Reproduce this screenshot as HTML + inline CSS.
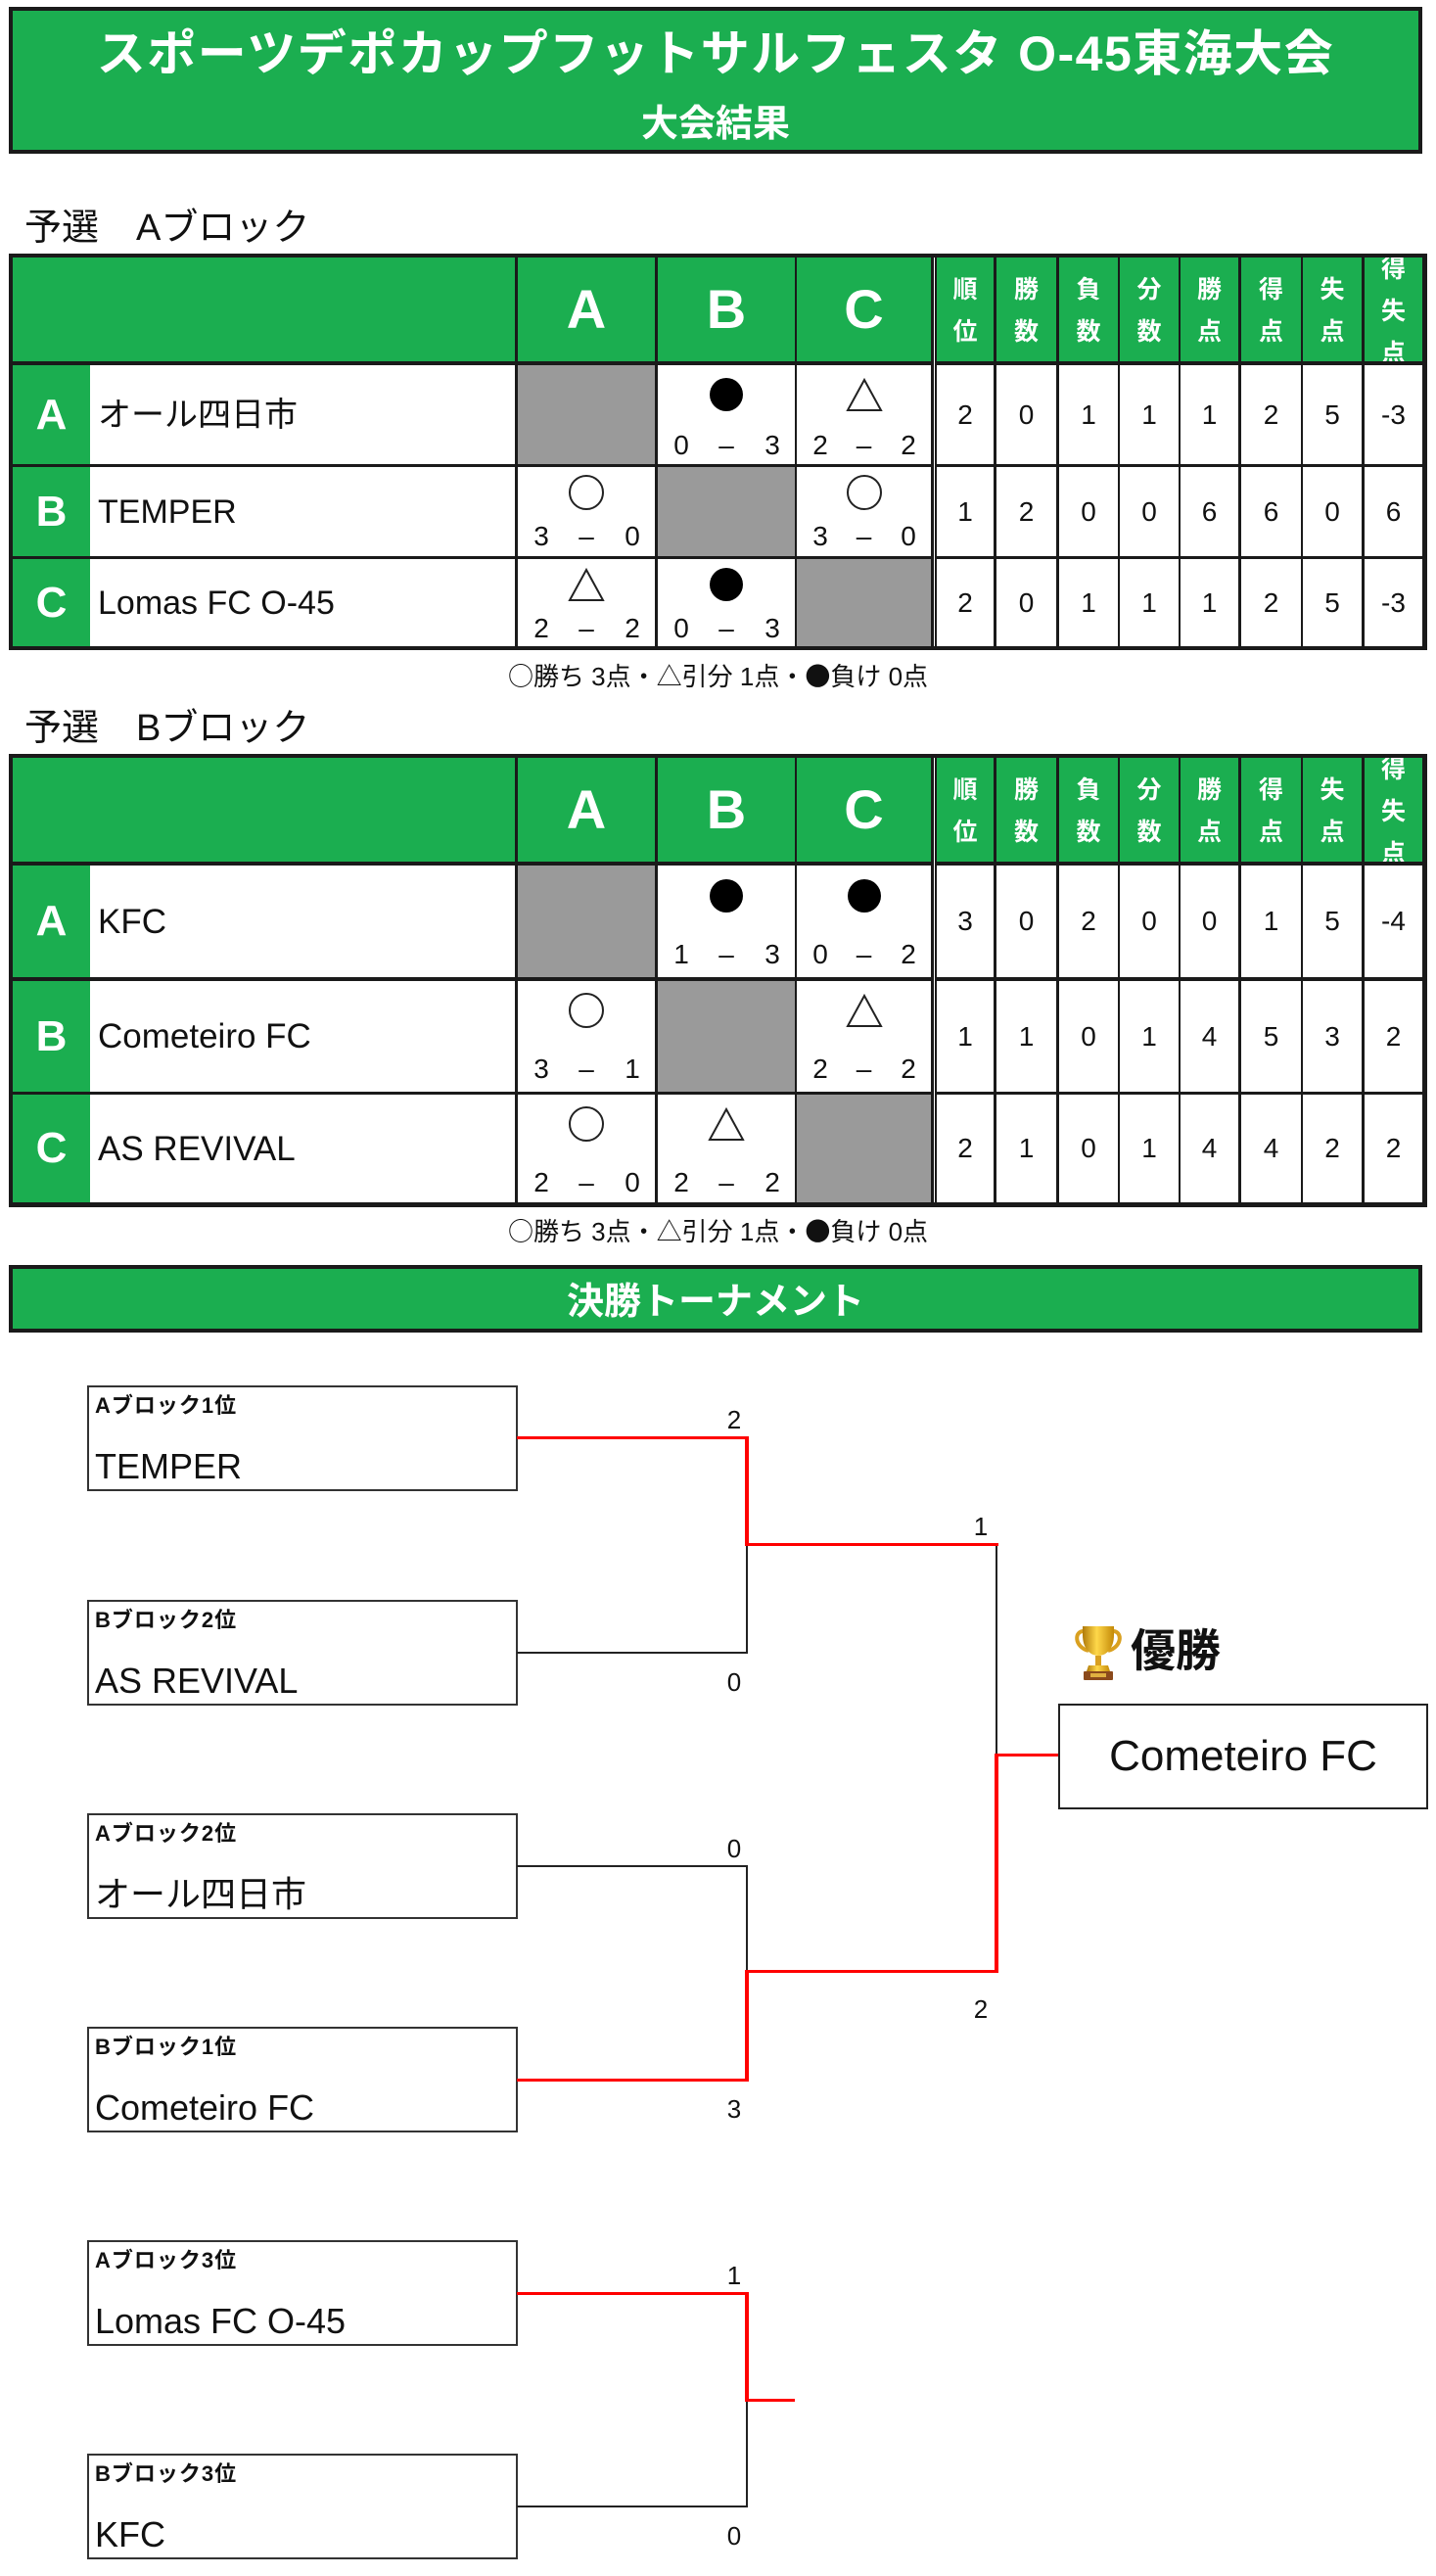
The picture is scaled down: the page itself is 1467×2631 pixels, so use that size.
<!DOCTYPE html>
<html lang="ja">
<head>
<meta charset="utf-8">
<style>
*{margin:0;padding:0;box-sizing:border-box}
body{width:1467px;height:2631px;position:relative;background:#fff;overflow:hidden;font-family:"Liberation Sans","Noto Sans CJK JP",sans-serif;color:#111;line-height:1}
.a{position:absolute}
.c{position:absolute;display:flex;align-items:center;justify-content:center;white-space:nowrap}
.t{position:absolute;white-space:nowrap;text-align:center}
.g{background:#1bae50}
.gr{background:#9a9a9a}
.w{background:#fff}
.k{background:#1a1a1a}
.r{background:#ff0000}
.kl{background:#222}
.cj{font-family:"Noto Sans CJK JP","Liberation Sans",sans-serif}
/* columns */
.cL{left:13px;width:79px}
.cN{left:92px;width:434px}
.cH{left:13px;width:513px}
.cA{left:529px;width:140px}
.cB{left:672px;width:140px}
.cC{left:814px;width:137px}
.s1{left:957px;width:58px}
.s2{left:1018px;width:61px}
.s3{left:1082px;width:60px}
.s4{left:1144px;width:60px}
.s5{left:1206px;width:59px}
.s6{left:1268px;width:61px}
.s7{left:1331px;width:60px}
.s8{left:1394px;width:59px}
/* rows table A */
.ah{top:263px;height:106px}
.a1{top:373px;height:101px}
.a2{top:477px;height:91px}
.a3{top:571px;height:89px}
/* rows table B */
.bh{top:774px;height:106px}
.b1{top:884px;height:114px}
.b2{top:1002px;height:113px}
.b3{top:1118px;height:110px}
.hl{color:#fff;font-weight:bold;font-size:56px}
.rl{color:#fff;font-weight:bold;font-size:44px}
.nm{justify-content:flex-start;padding-left:8px;font-size:34px;background:#fff}
.sh{color:#fff;font-weight:bold;font-size:25px;line-height:43px;text-align:center;overflow:hidden;white-space:normal;padding-top:4px}
.n{font-size:28px;background:#fff}
.sy{position:absolute;left:calc(50% - 19px)}
.sc{position:absolute;left:0;right:0;height:30px;font-size:28px;line-height:30px}
.sc span{position:absolute;top:0;width:20px;text-align:center}
.sc .l{left:14px}
.sc .m{left:calc(50% - 10px)}
.sc .rr{right:13px}
.bx{position:absolute;left:89px;width:440px;height:108px;border:2px solid #333;background:#fff}
.bl{position:absolute;left:6px;top:7px;font-size:22px;font-weight:bold;letter-spacing:1px;line-height:24px;white-space:nowrap}
.bn{position:absolute;left:6px;top:62px;font-size:36px;line-height:38px;white-space:nowrap}
.sl{position:absolute;width:30px;text-align:center;font-size:26px;line-height:30px}
.lg{font-size:26px}
</style>
</head>
<body>

<!-- Header -->
<div class="a g" style="left:9px;top:7px;width:1444px;height:150px;border:4px solid #1a1a1a"></div>
<div class="t" style="left:9px;width:1444px;top:25px;height:60px;line-height:60px;font-size:50px;font-weight:bold;color:#fff;letter-spacing:1.5px">スポーツデポカップフットサルフェスタ O-45東海大会</div>
<div class="t" style="left:9px;width:1444px;top:105px;height:44px;line-height:44px;font-size:38px;font-weight:bold;color:#fff">大会結果</div>

<!-- Section A title -->
<div class="t" style="left:25px;top:211px;height:44px;line-height:44px;font-size:38px;text-align:left">予選　Aブロック</div>

<!-- Table A -->
<div class="a k" style="left:9px;top:259px;width:1449px;height:405px"></div>
<div class="a w" style="left:954px;top:263px;width:1px;height:397px"></div>
<div class="c g cH ah"></div>
<div class="c g cA ah hl">A</div>
<div class="c g cB ah hl">B</div>
<div class="c g cC ah hl">C</div>
<div class="c g s1 ah sh">順<br>位</div>
<div class="c g s2 ah sh">勝<br>数</div>
<div class="c g s3 ah sh">負<br>数</div>
<div class="c g s4 ah sh">分<br>数</div>
<div class="c g s5 ah sh">勝<br>点</div>
<div class="c g s6 ah sh">得<br>点</div>
<div class="c g s7 ah sh">失<br>点</div>
<div class="c g s8 ah sh">得<br>失<br>点</div>

<!-- A row A -->
<div class="c g cL a1 rl">A</div>
<div class="c cN a1 nm">オール四日市</div>
<div class="c gr cA a1"></div>
<div class="a w cB a1">
  <svg class="sy" style="top:11px" width="38" height="38"><circle cx="19" cy="19" r="17" fill="#000"/></svg>
  <div class="sc" style="bottom:4px"><span class="l">0</span><span class="m">–</span><span class="rr">3</span></div>
</div>
<div class="a w cC a1">
  <svg class="sy" style="top:11px" width="38" height="38"><polygon points="2,35 36,35 19,4" fill="none" stroke="#222" stroke-width="2"/></svg>
  <div class="sc" style="bottom:4px"><span class="l">2</span><span class="m">–</span><span class="rr">2</span></div>
</div>
<div class="c s1 a1 n">2</div><div class="c s2 a1 n">0</div><div class="c s3 a1 n">1</div><div class="c s4 a1 n">1</div><div class="c s5 a1 n">1</div><div class="c s6 a1 n">2</div><div class="c s7 a1 n">5</div><div class="c s8 a1 n">-3</div>

<!-- A row B -->
<div class="c g cL a2 rl">B</div>
<div class="c cN a2 nm">TEMPER</div>
<div class="a w cA a2">
  <svg class="sy" style="top:7px" width="38" height="38"><circle cx="19" cy="19" r="17" fill="none" stroke="#222" stroke-width="2"/></svg>
  <div class="sc" style="bottom:5px"><span class="l">3</span><span class="m">–</span><span class="rr">0</span></div>
</div>
<div class="c gr cB a2"></div>
<div class="a w cC a2">
  <svg class="sy" style="top:7px" width="38" height="38"><circle cx="19" cy="19" r="17" fill="none" stroke="#222" stroke-width="2"/></svg>
  <div class="sc" style="bottom:5px"><span class="l">3</span><span class="m">–</span><span class="rr">0</span></div>
</div>
<div class="c s1 a2 n">1</div><div class="c s2 a2 n">2</div><div class="c s3 a2 n">0</div><div class="c s4 a2 n">0</div><div class="c s5 a2 n">6</div><div class="c s6 a2 n">6</div><div class="c s7 a2 n">0</div><div class="c s8 a2 n">6</div>

<!-- A row C -->
<div class="c g cL a3 rl">C</div>
<div class="c cN a3 nm">Lomas FC O-45</div>
<div class="a w cA a3">
  <svg class="sy" style="top:7px" width="38" height="38"><polygon points="2,35 36,35 19,4" fill="none" stroke="#222" stroke-width="2"/></svg>
  <div class="sc" style="bottom:3px"><span class="l">2</span><span class="m">–</span><span class="rr">2</span></div>
</div>
<div class="a w cB a3">
  <svg class="sy" style="top:7px" width="38" height="38"><circle cx="19" cy="19" r="17" fill="#000"/></svg>
  <div class="sc" style="bottom:3px"><span class="l">0</span><span class="m">–</span><span class="rr">3</span></div>
</div>
<div class="c gr cC a3"></div>
<div class="c s1 a3 n">2</div><div class="c s2 a3 n">0</div><div class="c s3 a3 n">1</div><div class="c s4 a3 n">1</div><div class="c s5 a3 n">1</div><div class="c s6 a3 n">2</div><div class="c s7 a3 n">5</div><div class="c s8 a3 n">-3</div>

<div class="t lg" style="left:9px;width:1449px;top:675px;height:30px;line-height:30px"><span class="cj">○</span>勝ち 3点・<span class="cj">△</span>引分 1点・<span class="cj">●</span>負け 0点</div>

<!-- Section B title -->
<div class="t" style="left:25px;top:722px;height:44px;line-height:44px;font-size:38px;text-align:left">予選　Bブロック</div>

<!-- Table B -->
<div class="a k" style="left:9px;top:770px;width:1449px;height:463px"></div>
<div class="a w" style="left:954px;top:774px;width:1px;height:454px"></div>
<div class="c g cH bh"></div>
<div class="c g cA bh hl">A</div>
<div class="c g cB bh hl">B</div>
<div class="c g cC bh hl">C</div>
<div class="c g s1 bh sh">順<br>位</div>
<div class="c g s2 bh sh">勝<br>数</div>
<div class="c g s3 bh sh">負<br>数</div>
<div class="c g s4 bh sh">分<br>数</div>
<div class="c g s5 bh sh">勝<br>点</div>
<div class="c g s6 bh sh">得<br>点</div>
<div class="c g s7 bh sh">失<br>点</div>
<div class="c g s8 bh sh">得<br>失<br>点</div>

<!-- B row A -->
<div class="c g cL b1 rl">A</div>
<div class="c cN b1 nm" style="font-size:35px">KFC</div>
<div class="c gr cA b1"></div>
<div class="a w cB b1">
  <svg class="sy" style="top:12px" width="38" height="38"><circle cx="19" cy="19" r="17" fill="#000"/></svg>
  <div class="sc" style="bottom:8px"><span class="l">1</span><span class="m">–</span><span class="rr">3</span></div>
</div>
<div class="a w cC b1">
  <svg class="sy" style="top:12px" width="38" height="38"><circle cx="19" cy="19" r="17" fill="#000"/></svg>
  <div class="sc" style="bottom:8px"><span class="l">0</span><span class="m">–</span><span class="rr">2</span></div>
</div>
<div class="c s1 b1 n">3</div><div class="c s2 b1 n">0</div><div class="c s3 b1 n">2</div><div class="c s4 b1 n">0</div><div class="c s5 b1 n">0</div><div class="c s6 b1 n">1</div><div class="c s7 b1 n">5</div><div class="c s8 b1 n">-4</div>

<!-- B row B -->
<div class="c g cL b2 rl">B</div>
<div class="c cN b2 nm" style="font-size:35px">Cometeiro FC</div>
<div class="a w cA b2">
  <svg class="sy" style="top:11px" width="38" height="38"><circle cx="19" cy="19" r="17" fill="none" stroke="#222" stroke-width="2"/></svg>
  <div class="sc" style="bottom:8px"><span class="l">3</span><span class="m">–</span><span class="rr">1</span></div>
</div>
<div class="c gr cB b2"></div>
<div class="a w cC b2">
  <svg class="sy" style="top:11px" width="38" height="38"><polygon points="2,35 36,35 19,4" fill="none" stroke="#222" stroke-width="2"/></svg>
  <div class="sc" style="bottom:8px"><span class="l">2</span><span class="m">–</span><span class="rr">2</span></div>
</div>
<div class="c s1 b2 n">1</div><div class="c s2 b2 n">1</div><div class="c s3 b2 n">0</div><div class="c s4 b2 n">1</div><div class="c s5 b2 n">4</div><div class="c s6 b2 n">5</div><div class="c s7 b2 n">3</div><div class="c s8 b2 n">2</div>

<!-- B row C -->
<div class="c g cL b3 rl">C</div>
<div class="c cN b3 nm" style="font-size:35px">AS REVIVAL</div>
<div class="a w cA b3">
  <svg class="sy" style="top:11px" width="38" height="38"><circle cx="19" cy="19" r="17" fill="none" stroke="#222" stroke-width="2"/></svg>
  <div class="sc" style="bottom:5px"><span class="l">2</span><span class="m">–</span><span class="rr">0</span></div>
</div>
<div class="a w cB b3">
  <svg class="sy" style="top:11px" width="38" height="38"><polygon points="2,35 36,35 19,4" fill="none" stroke="#222" stroke-width="2"/></svg>
  <div class="sc" style="bottom:5px"><span class="l">2</span><span class="m">–</span><span class="rr">2</span></div>
</div>
<div class="c gr cC b3"></div>
<div class="c s1 b3 n">2</div><div class="c s2 b3 n">1</div><div class="c s3 b3 n">0</div><div class="c s4 b3 n">1</div><div class="c s5 b3 n">4</div><div class="c s6 b3 n">4</div><div class="c s7 b3 n">2</div><div class="c s8 b3 n">2</div>

<div class="t lg" style="left:9px;width:1449px;top:1242px;height:30px;line-height:30px"><span class="cj">○</span>勝ち 3点・<span class="cj">△</span>引分 1点・<span class="cj">●</span>負け 0点</div>

<!-- Tournament bar -->
<div class="a g" style="left:9px;top:1292px;width:1444px;height:69px;border:4px solid #1a1a1a"></div>
<div class="t" style="left:9px;width:1444px;top:1308px;height:44px;line-height:44px;font-size:38px;font-weight:bold;color:#fff">決勝トーナメント</div>

<!-- Bracket boxes -->
<div class="bx" style="top:1415px"><div class="bl">Aブロック1位</div><div class="bn">TEMPER</div></div>
<div class="bx" style="top:1634px"><div class="bl">Bブロック2位</div><div class="bn">AS REVIVAL</div></div>
<div class="bx" style="top:1852px"><div class="bl">Aブロック2位</div><div class="bn">オール四日市</div></div>
<div class="bx" style="top:2070px"><div class="bl">Bブロック1位</div><div class="bn">Cometeiro FC</div></div>
<div class="bx" style="top:2288px"><div class="bl">Aブロック3位</div><div class="bn">Lomas FC O-45</div></div>
<div class="bx" style="top:2506px"><div class="bl">Bブロック3位</div><div class="bn">KFC</div></div>

<!-- Bracket lines: black -->
<div class="a kl" style="left:762px;top:1578px;width:2px;height:111px"></div>
<div class="a kl" style="left:528px;top:1687px;width:236px;height:2px"></div>
<div class="a kl" style="left:1017px;top:1578px;width:2px;height:214px"></div>
<div class="a kl" style="left:528px;top:1905px;width:236px;height:2px"></div>
<div class="a kl" style="left:762px;top:1905px;width:2px;height:108px"></div>
<div class="a kl" style="left:762px;top:2452px;width:2px;height:109px"></div>
<div class="a kl" style="left:528px;top:2559px;width:236px;height:2px"></div>

<!-- Bracket lines: red -->
<div class="a r" style="left:528px;top:1467px;width:237px;height:3px"></div>
<div class="a r" style="left:761px;top:1467px;width:4px;height:112px"></div>
<div class="a r" style="left:761px;top:1576px;width:259px;height:3px"></div>
<div class="a r" style="left:1016px;top:1791px;width:4px;height:224px"></div>
<div class="a r" style="left:1016px;top:1791px;width:65px;height:3px"></div>
<div class="a r" style="left:761px;top:2012px;width:259px;height:3px"></div>
<div class="a r" style="left:761px;top:2012px;width:4px;height:114px"></div>
<div class="a r" style="left:528px;top:2123px;width:237px;height:3px"></div>
<div class="a r" style="left:528px;top:2341px;width:237px;height:3px"></div>
<div class="a r" style="left:761px;top:2341px;width:4px;height:112px"></div>
<div class="a r" style="left:761px;top:2450px;width:51px;height:3px"></div>

<!-- Score labels -->
<div class="sl" style="left:735px;top:1435px">2</div>
<div class="sl" style="left:735px;top:1703px">0</div>
<div class="sl" style="left:735px;top:1873px">0</div>
<div class="sl" style="left:735px;top:2139px">3</div>
<div class="sl" style="left:987px;top:1544px">1</div>
<div class="sl" style="left:987px;top:2037px">2</div>
<div class="sl" style="left:735px;top:2309px">1</div>
<div class="sl" style="left:735px;top:2575px">0</div>

<!-- Trophy + 優勝 -->
<svg class="a" style="left:1095px;top:1658px" width="54" height="60" viewBox="0 0 54 60">
  <defs>
    <linearGradient id="gd" x1="0" x2="1" y1="0" y2="0">
      <stop offset="0" stop-color="#b07a0a"/>
      <stop offset="0.45" stop-color="#ffd84a"/>
      <stop offset="1" stop-color="#c48a08"/>
    </linearGradient>
  </defs>
  <path d="M13 8 C2 7 2 24 17 28" fill="none" stroke="#d9a020" stroke-width="4"/>
  <path d="M41 8 C52 7 52 24 37 28" fill="none" stroke="#d9a020" stroke-width="4"/>
  <path d="M11 3 H43 V12 C43 26 35 33 27 33 C19 33 11 26 11 12 Z" fill="url(#gd)"/>
  <rect x="24" y="33" width="6" height="10" fill="#d9a020"/>
  <path d="M17 43 H37 L39 49 H15 Z" fill="url(#gd)"/>
  <rect x="12" y="49" width="30" height="9" rx="1" fill="#8b4a1c"/>
  <rect x="19" y="51" width="16" height="4" fill="#e0b040"/>
</svg>
<div class="t" style="left:1155px;top:1662px;height:48px;line-height:48px;font-size:46px;font-weight:bold;text-align:left">優勝</div>

<!-- Champion box -->
<div class="c" style="left:1081px;top:1740px;width:378px;height:108px;border:2px solid #222;background:#fff;font-size:44px">Cometeiro FC</div>

</body>
</html>
